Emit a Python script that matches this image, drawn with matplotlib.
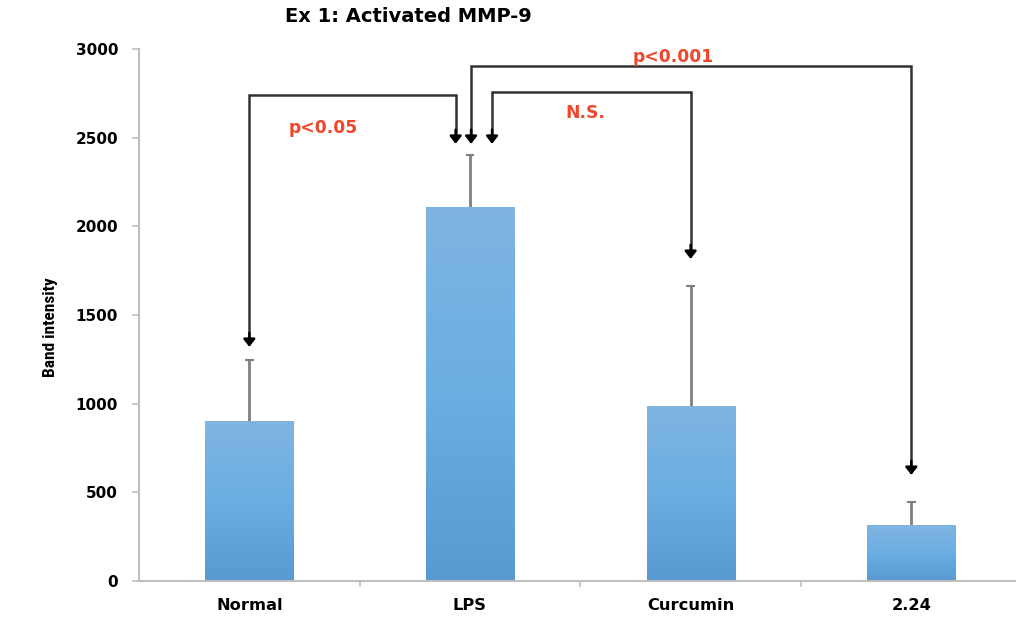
import matplotlib
matplotlib.use("Agg")
import matplotlib.pyplot as plt
import numpy as np
from matplotlib.colors import LinearSegmentedColormap

# Band intensity of activated MMP-9 per treatment group
groups = ["Normal", "LPS", "Curcumin", "2.24"]
means = [900, 2110, 985, 315]
errors = [345, 290, 680, 130]
yticks = [0, 500, 1000, 1500, 2000, 2500, 3000]

# significance brackets: (start x, start y, top y, end x, arrow tip y)
brackets = [
    (0.0, 1320, 2740, 0.935, 2465),
    (1.005, 2465, 2905, 3.0, 598),
    (1.10, 2465, 2758, 2.0, 1816),
]
labels = [("p<0.05", 0.335, 2555), ("p<0.001", 1.92, 2955), ("N.S.", 1.523, 2640)]

ARROW = dict(arrowstyle="-|>,head_length=0.45,head_width=0.35",
             color="black", lw=1.8, shrinkA=0, shrinkB=0)


def down_arrow(ax, x, ytip):
    ax.annotate("", xy=(x, ytip), xytext=(x, ytip + 80), arrowprops=ARROW, zorder=3)


fig = plt.figure(figsize=(10.16, 6.21), dpi=100)
ax = fig.add_axes([139 / 1016, 40 / 621, 876 / 1016, 532 / 621])

bar_cmap = LinearSegmentedColormap.from_list("bar", ["#5899d2", "#6aaee3", "#80b5e1"])
xpos = np.arange(len(groups))
bars = ax.bar(xpos, means, width=0.4, color="none", edgecolor="none", zorder=2)
grad = np.linspace(0, 1, 256).reshape(-1, 1)
for b in bars:
    x0, y0 = b.get_x(), b.get_y()
    im = ax.imshow(grad, cmap=bar_cmap, origin="lower", aspect="auto",
                   extent=[x0, x0 + b.get_width(), y0, y0 + b.get_height()], zorder=2)
    im.set_clip_path(b)

# upper error bars only
tops = np.array(means) + np.array(errors)
ax.vlines(xpos, means, tops, color="#7f7f7f", lw=2, zorder=1)
ax.hlines(tops, xpos - 0.02, xpos + 0.02, color="#7f7f7f", lw=1.5, zorder=1)

for x0, y0, ytop, x1, ytip in brackets:
    ax.plot([x0, x0, x1, x1], [y0 + 40, ytop, ytop, ytip + 60], color="#333333", lw=1.8,
            solid_joinstyle="miter", zorder=3)
    down_arrow(ax, x1, ytip)
# the p<0.05 bracket has arrows at both ends, and all three point at LPS
down_arrow(ax, 0.0, 1320)
down_arrow(ax, 1.005, 2465)
down_arrow(ax, 1.10, 2465)

for txt, lx, ly in labels:
    ax.text(lx, ly, txt, color="#f0462c", fontsize=12.3, fontweight="bold",
            ha="center", va="center")

ax.set_xlim(-0.5, 3.47)
ax.set_ylim(0, 3000)
ax.set_yticks(yticks)
ax.set_yticklabels([str(v) for v in yticks], fontsize=11, fontweight="bold")
ax.set_xticks(xpos)
ax.set_xticklabels(groups, fontsize=11.7, fontweight="bold")
ax.set_xticks([0.5, 1.5, 2.5], minor=True)
ax.tick_params(axis="x", which="major", length=0, pad=12)
ax.tick_params(axis="x", which="minor", length=4, color="#bfbfbf", width=1.2)
ax.tick_params(axis="y", length=5, color="#bfbfbf", width=1.2, pad=10)
for side in ("top", "right"):
    ax.spines[side].set_visible(False)
for side in ("left", "bottom"):
    ax.spines[side].set_color("#bfbfbf")
    ax.spines[side].set_linewidth(1.5)

ax.set_ylabel("Band intensity", family=["Roboto Condensed", "Roboto", "DejaVu Sans"],
              fontsize=12.5, fontweight="bold")
ax.yaxis.set_label_coords(-0.093, 0.477)
fig.text(408 / 1016, 1 - 17 / 621, "Ex 1: Activated MMP-9", fontsize=14,
         fontweight="bold", ha="center", va="center")

fig.savefig("out.png", dpi=100)
